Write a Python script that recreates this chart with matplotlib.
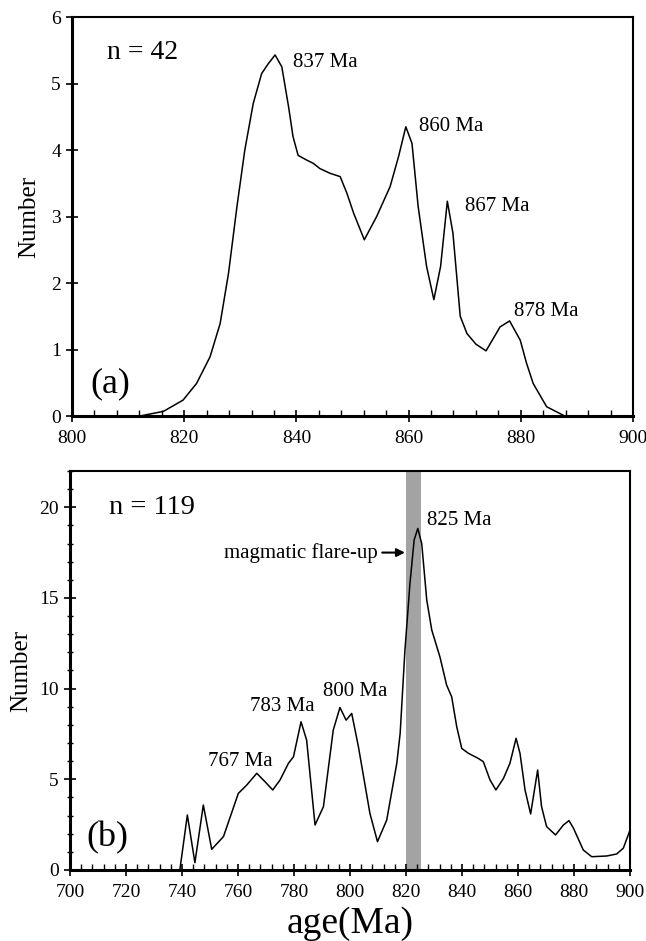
# Age probability plots (a) n=42, (b) n=119
import matplotlib
matplotlib.use('Agg')
import matplotlib.pyplot as plt
import matplotlib.transforms as mtrans
from matplotlib.ticker import MultipleLocator

plt.rcParams['font.family'] = ['Liberation Serif', 'DejaVu Serif']

# panel (a), values
age_a = [812.1, 816.3, 819.8, 822.2, 824.6, 826.4, 827.9, 829.4, 830.8, 832.3,
         833.8, 835.0, 836.2, 837.4, 838.6, 839.4, 840.3, 841.8, 843.0, 844.2,
         846.0, 847.8, 849.0, 850.2, 852.1, 854.3, 856.7, 858.2, 859.5, 860.6,
         861.7, 863.2, 864.5, 865.7, 866.9, 867.9, 869.2, 870.4, 872.0, 873.8,
         876.3, 878.0, 879.9, 881.0, 882.2, 884.6, 887.6]
num_a = [0.0, 0.07, 0.24, 0.49, 0.89, 1.39, 2.15, 3.15, 4.0, 4.70,
         5.15, 5.30, 5.43, 5.25, 4.65, 4.2, 3.92, 3.85, 3.8, 3.72,
         3.65, 3.6, 3.35, 3.05, 2.65, 3.0, 3.45, 3.9, 4.35, 4.1,
         3.15, 2.25, 1.75, 2.25, 3.23, 2.75, 1.5, 1.24, 1.08, 0.98,
         1.34, 1.43, 1.14, 0.8, 0.49, 0.14, 0.01]
peaks_a = ['837 Ma', '860 Ma', '867 Ma', '878 Ma']
peak_pos_a = [(839.4, 5.31), (861.9, 4.35), (870.0, 3.15), (878.8, 1.57)]

# panel (b)
age_b = [739.3, 741.9, 744.6, 747.6, 750.6, 754.8, 760.1, 763.1, 766.7, 769.6,
         772.4, 775.0, 778.0, 779.8, 782.5, 784.5, 787.5, 790.5, 794.0, 796.4,
         798.6, 800.6, 803.0, 807.1, 809.8, 813.1, 816.7, 817.9, 819.6, 821.4,
         822.9, 824.2, 825.6, 827.4, 829.2, 832.1, 834.5, 836.3, 838.1, 839.9,
         842.3, 845.8, 847.6, 850.0, 852.1, 854.8, 857.1, 859.3, 860.7, 862.5,
         864.5, 867.0, 868.4, 870.2, 873.4, 876.2, 878.2, 879.8, 883.3, 886.3,
         891.7, 895.2, 897.6, 900.0]
num_b = [0.09, 3.03, 0.4, 3.58, 1.14, 1.84, 4.22, 4.68, 5.33, 4.87,
         4.41, 4.96, 5.88, 6.24, 8.17, 7.16, 2.48, 3.49, 7.71, 8.96,
         8.26, 8.63, 6.79, 3.12, 1.56, 2.75, 5.88, 7.53, 12.1, 15.8,
         18.2, 18.83, 18.0, 14.88, 13.22, 11.75, 10.19, 9.55, 7.9, 6.7,
         6.43, 6.15, 5.97, 4.96, 4.41, 5.05, 5.88, 7.26, 6.43, 4.41,
         3.09, 5.51, 3.49, 2.39, 1.93, 2.48, 2.72, 2.3, 1.1, 0.73,
         0.77, 0.88, 1.2, 2.2]
peaks_b = ['767 Ma', '783 Ma', '800 Ma', '825 Ma']
peak_pos_b = [(749.4, 5.96), (764.3, 9.0), (790.5, 9.82), (827.4, 19.28)]
flare_band = (820.0, 825.5)

fig = plt.figure(figsize=(6.46, 9.41), dpi=100)
ax1 = fig.add_axes([0.1115, 0.5579, 0.8684, 0.424])
ax2 = fig.add_axes([0.1084, 0.0755, 0.8669, 0.424])

def style(ax, ymaj, yminor=None):
    for s in ['top', 'right']:
        ax.spines[s].set_linewidth(1.5)
    for s in ['left', 'bottom']:
        ax.spines[s].set_linewidth(2.2)
    ax.xaxis.set_major_locator(MultipleLocator(20))
    ax.xaxis.set_minor_locator(MultipleLocator(4))
    ax.yaxis.set_major_locator(MultipleLocator(ymaj))
    if yminor:
        ax.yaxis.set_minor_locator(MultipleLocator(yminor))
    ax.tick_params(which='major', direction='inout', length=8, width=1.2,
                   labelsize=14)
    ax.tick_params(axis='x', which='major', pad=6)
    ax.tick_params(axis='y', which='major', pad=4)
    ax.tick_params(axis='x', which='minor', direction='in', length=4, width=1)
    ax.tick_params(axis='y', which='minor', direction='inout', length=5, width=1)

ax1.plot(age_a, num_a, c='black', lw=1.1)
ax1.set_xlim(800, 900)
ax1.set_ylim(0, 6)
style(ax1, 1)
ax1.set_ylabel('Number', fontsize=18, labelpad=8)
ax1.text(806.2, 5.46, 'n = 42', fontsize=20, va='center')
ax1.text(803.2, 0.35, '(a)', fontsize=26, va='baseline')
for lab, (x, y) in zip(peaks_a, peak_pos_a):
    ax1.text(x, y, lab, fontsize=15, va='center')

ax2.axvspan(*flare_band, color='#a3a3a3', lw=0)
ax2.plot(age_b, num_b, c='black', lw=1.1)
ax2.set_xlim(700, 900)
ax2.set_ylim(0, 22)
style(ax2, 5, 1)
ax2.set_ylabel('Number', fontsize=18, labelpad=5)
ax2.text(713.9, 20.0, 'n = 119', fontsize=20.5, va='center')
ax2.text(706.0, 1.3, '(b)', fontsize=26, va='baseline')
for lab, (x, y) in zip(peaks_b, peak_pos_b):
    ax2.text(x, y, lab, fontsize=15, va='center')
ax2.annotate('magmatic flare-up', xy=(819.6, 17.5), xytext=(810.0, 17.5),
             fontsize=15, va='center', ha='right',
             arrowprops=dict(arrowstyle='-|>', color='black', lw=1.5,
                             shrinkA=1, shrinkB=0, mutation_scale=12))
ax2.set_xlabel('age(Ma)', fontsize=27, labelpad=4)

# the last x label of panel (a) sits against the right edge, nudge it in
fig.canvas.draw()
last = ax1.get_xticklabels()[-1]
last.set_transform(last.get_transform() +
                   mtrans.ScaledTranslation(-5 / 72, 0, fig.dpi_scale_trans))

fig.savefig('out.png', dpi=100)
plt.close()
